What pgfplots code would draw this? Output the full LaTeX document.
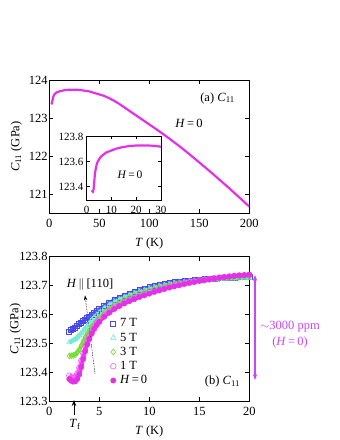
\documentclass[border=0pt]{standalone}
\usepackage{fontspec}
\setmainfont{Liberation Serif}
\usepackage{pgfplots}
\usepackage{pgfplotstable}
\pgfplotsset{compat=1.18}
\usetikzlibrary{arrows.meta}

\definecolor{cmag}{RGB}{228,48,232}
\definecolor{cone}{RGB}{240,90,240}
\definecolor{cthree}{RGB}{112,222,40}
\definecolor{cfive}{RGB}{110,236,214}
\definecolor{cseven}{RGB}{72,72,236}
\definecolor{cppm}{RGB}{200,70,250}

% (a) C11 vs T, H = 0
\pgfplotstableread{
T C
2 123.36
2.5 123.38
3 123.45
4 123.56
5 123.62
7 123.67
10 123.70
15 123.73
20 123.745
25 123.745
30 123.74
35 123.72
40 123.70
45 123.66
50 123.62
55 123.58
60 123.52
65 123.45
70 123.37
75 123.28
80 123.19
90 123.01
100 122.83
110 122.65
120 122.46
130 122.26
140 122.05
150 121.83
160 121.61
170 121.38
180 121.15
190 120.91
200 120.67
}\widecurve

\pgfplotstableread{
T C
2 123.37
2.5 123.36
2.8 123.38
3.0 123.43
3.3 123.50
3.7 123.55
4.2 123.59
5 123.62
6 123.645
7 123.66
8 123.675
10 123.69
12 123.705
14 123.715
17 123.725
20 123.73
24 123.73
27 123.728
30 123.72
}\insetcurve

% (b) field dependence
\pgfplotstableread{
T C
2.0 123.540
2.2 123.545
2.4 123.550
2.6 123.555
2.8 123.561
3.0 123.566
3.2 123.571
3.4 123.577
3.6 123.582
3.8 123.588
4.0 123.593
4.25 123.600
4.5 123.606
4.75 123.612
5.0 123.618
5.5 123.630
6.0 123.641
6.5 123.650
7.0 123.658
7.5 123.665
8.0 123.672
8.5 123.678
9.0 123.684
9.5 123.689
10 123.694
10.5 123.698
11 123.702
11.5 123.706
12 123.709
12.5 123.712
13 123.714
13.5 123.716
14 123.718
14.5 123.720
15 123.721
15.5 123.723
16 123.724
16.5 123.725
17 123.726
17.5 123.727
18 123.728
18.5 123.728
19 123.729
19.5 123.730
20 123.730
}\sevenT

\pgfplotstableread{
T C
2.0 123.503
2.2 123.506
2.4 123.510
2.6 123.514
2.8 123.520
3.0 123.527
3.2 123.535
3.4 123.544
3.6 123.552
3.8 123.561
4.0 123.570
4.25 123.580
4.5 123.590
4.75 123.598
5.0 123.606
5.5 123.620
6.0 123.632
6.5 123.642
7.0 123.651
7.5 123.659
8.0 123.666
8.5 123.672
9.0 123.678
9.5 123.683
10 123.688
10.5 123.693
11 123.697
11.5 123.701
12 123.704
12.5 123.707
13 123.709
13.5 123.712
14 123.714
14.5 123.716
15 123.717
15.5 123.719
16 123.720
16.5 123.721
17 123.722
17.5 123.723
18 123.724
18.5 123.724
19 123.725
19.5 123.726
20 123.726
}\fiveT

\pgfplotstableread{
T C
2.0 123.456
2.2 123.457
2.4 123.458
2.6 123.461
2.8 123.468
3.0 123.478
3.2 123.492
3.4 123.507
3.6 123.521
3.8 123.533
4.0 123.544
4.25 123.557
4.5 123.568
4.75 123.580
5.0 123.590
5.5 123.607
6.0 123.621
6.5 123.633
7.0 123.643
7.5 123.652
8.0 123.660
8.5 123.667
9.0 123.673
9.5 123.679
10 123.684
10.5 123.689
11 123.694
11.5 123.698
12 123.701
12.5 123.705
13 123.708
13.5 123.711
14 123.713
14.5 123.715
15 123.717
15.5 123.719
16 123.721
16.5 123.723
17 123.724
17.5 123.726
18 123.727
18.5 123.728
19 123.729
19.5 123.730
20 123.731
}\threeT

\pgfplotstableread{
T C
2.0 123.388
2.2 123.383
2.4 123.380
2.6 123.383
2.8 123.395
3.0 123.415
3.2 123.440
3.4 123.465
3.6 123.489
3.8 123.509
4.0 123.526
4.25 123.543
4.5 123.558
4.75 123.571
5.0 123.582
5.5 123.598
6.0 123.612
6.5 123.624
7.0 123.634
7.5 123.643
8.0 123.651
8.5 123.658
9.0 123.665
9.5 123.671
10 123.677
10.5 123.683
11 123.688
11.5 123.693
12 123.697
12.5 123.701
13 123.705
13.5 123.709
14 123.712
14.5 123.715
15 123.718
15.5 123.721
16 123.723
16.5 123.726
17 123.728
17.5 123.730
18 123.732
18.5 123.734
19 123.735
19.5 123.736
20 123.737
}\oneT

\pgfplotstableread{
T C
2.0 123.376
2.2 123.370
2.4 123.367
2.6 123.368
2.8 123.376
3.0 123.392
3.2 123.418
3.4 123.446
3.6 123.473
3.8 123.496
4.0 123.515
4.25 123.534
4.5 123.550
4.75 123.563
5.0 123.574
5.5 123.592
6.0 123.606
6.5 123.619
7.0 123.629
7.5 123.638
8.0 123.646
8.5 123.653
9.0 123.660
9.5 123.666
10 123.672
10.5 123.678
11 123.683
11.5 123.688
12 123.693
12.5 123.697
13 123.701
13.5 123.705
14 123.709
14.5 123.712
15 123.716
15.5 123.718
16 123.721
16.5 123.724
17 123.727
17.5 123.729
18 123.731
18.5 123.733
19 123.735
19.5 123.736
20 123.738
}\zeroT

\pgfplotsset{
  panel/.style={
    scale only axis,
    /pgf/number format/assume math mode=true,
    tick align=inside,
    major tick length=4pt,
    axis line style={line width=0.8pt},
    every tick/.style={black, line width=0.8pt},
    font=\fontsize{12.5}{14}\selectfont,
    tick label style={font=\fontsize{12.5}{14}\selectfont},
    yticklabel style={inner xsep=1.5pt},
    xticklabel style={yshift=-2.5pt},
    xlabel style={yshift=-3pt},
    scaled ticks=false,
  },
}

\begin{document}
\begin{tikzpicture}[x=1pt,y=1pt]

% ---- (a)
\begin{axis}[panel,
  at={(49.3pt,227pt)}, anchor=south west,
  width=200pt, height=133pt,
  xmin=0, xmax=200, ymin=120.5, ymax=124,
  xtick={0,50,100,150,200},
  ytick={121,122,123,124},
  xlabel={\textit{T} (K)},
  ylabel={\textit{C}\textsubscript{11} (GPa)},
  ylabel style={at={(axis description cs:-0.165,0.5)}, anchor=center},
]
\addplot[cmag, line width=2.2pt] table {\widecurve};
\end{axis}

\begin{axis}[panel,
  at={(86.7pt,240pt)}, anchor=south west,
  width=74.3pt, height=64pt,
  axis background/.style={fill=white},
  xmin=0, xmax=30, ymin=123.293, ymax=123.806,
  xtick={0,10,20,30},
  ytick={123.4,123.6,123.8},
  major tick length=3pt,
  font=\fontsize{11}{12}\selectfont,
  tick label style={font=\fontsize{11}{12}\selectfont},
  xticklabel style={yshift=0pt},
  yticklabel style={inner xsep=3pt, /pgf/number format/fixed, /pgf/number format/precision=1, /pgf/number format/fixed zerofill},
]
\addplot[cmag, line width=2.2pt] table {\insetcurve};
\end{axis}

\node[font=\fontsize{12.5}{14}\selectfont] at (217.5,342) {(a) \textit{C}\textsubscript{11}};
\node[font=\fontsize{12.5}{14}\selectfont] at (189,317) {\textit{H}\,=\,0};
\node[font=\fontsize{11.5}{13}\selectfont] at (130,265) {\textit{H}\,=\,0};

% ---- (b)
\begin{axis}[panel,
  at={(49.3pt,39pt)}, anchor=south west,
  width=200pt, height=144.3pt,
  xmin=0, xmax=20, ymin=123.3, ymax=123.8,
  xtick={0,5,10,15,20},
  ytick={123.3,123.4,123.5,123.6,123.7,123.8},
  yticklabel style={/pgf/number format/fixed, /pgf/number format/precision=1, /pgf/number format/fixed zerofill},
  xlabel={\textit{T} (K)},
  ylabel={\textit{C}\textsubscript{11} (GPa)},
  ylabel style={at={(axis description cs:-0.17,0.5)}, anchor=center},
  legend style={at={(rel axis cs:0.305,0.575)}, anchor=north west, draw=none, fill=none,
    font=\fontsize{12.5}{14}\selectfont, row sep=3.5pt, inner sep=0pt,
    nodes={inner xsep=4pt, inner ysep=0.5pt}},
  legend cell align=left,
]
\addplot[cseven!85, line width=3.6pt, forget plot] table {\sevenT};
\addplot[cseven, only marks, mark=square, mark size=2.5pt, line width=0.6pt] table {\sevenT};
\addplot[cfive!85, line width=3.6pt, forget plot] table {\fiveT};
\addplot[cfive, only marks, mark=triangle, mark size=3pt, line width=0.6pt] table {\fiveT};
\addplot[cthree!85, line width=3.6pt, forget plot] table {\threeT};
\addplot[cthree, only marks, mark=diamond, mark size=3pt, line width=0.6pt] table {\threeT};
\addplot[cone!80, line width=3.6pt, forget plot] table {\oneT};
\addplot[cone, only marks, mark=o, mark size=2.8pt, line width=0.6pt] table {\oneT};
\addplot[cmag, line width=3.6pt, forget plot] table {\zeroT};
\addplot[cmag, only marks, mark=*, mark size=2.7pt] table {\zeroT};
\legend{7 T, 5 T, 3 T, 1 T, \textit{H}\,=\,0}
\draw[densely dotted, line width=0.6pt, -{Stealth[length=5pt,width=3.5pt]}]
  (axis cs:4.57,123.396) -- (axis cs:3.57,123.666);
\end{axis}

\node[font=\fontsize{12.5}{14}\selectfont] at (90,155) {\textit{H}\,$\parallel$\,[110]};
\node[font=\fontsize{12.5}{14}\selectfont] at (222.5,58.5) {(b) \textit{C}\textsubscript{11}};

\draw[line width=0.8pt, -{Stealth[length=6pt,width=4.5pt]}] (74,25) -- (74,40);
\node[font=\fontsize{12.5}{14}\selectfont] at (75,16) {\textit{T}\textsubscript{f}};

\draw[cppm, line width=1.1pt, {Stealth[length=6pt,width=4.5pt]}-{Stealth[length=6pt,width=4.5pt]}] (255,165) -- (255,60);
\node[cppm, font=\fontsize{12.5}{14}\selectfont] at (290,113.3) {$\sim$3000 ppm};
\node[cppm, font=\fontsize{12.5}{14}\selectfont] at (290,98) {(\textit{H}\,=\,0)};

\pgfresetboundingbox
\useasboundingbox (0,0) rectangle (340,440);
\end{tikzpicture}
\end{document}
